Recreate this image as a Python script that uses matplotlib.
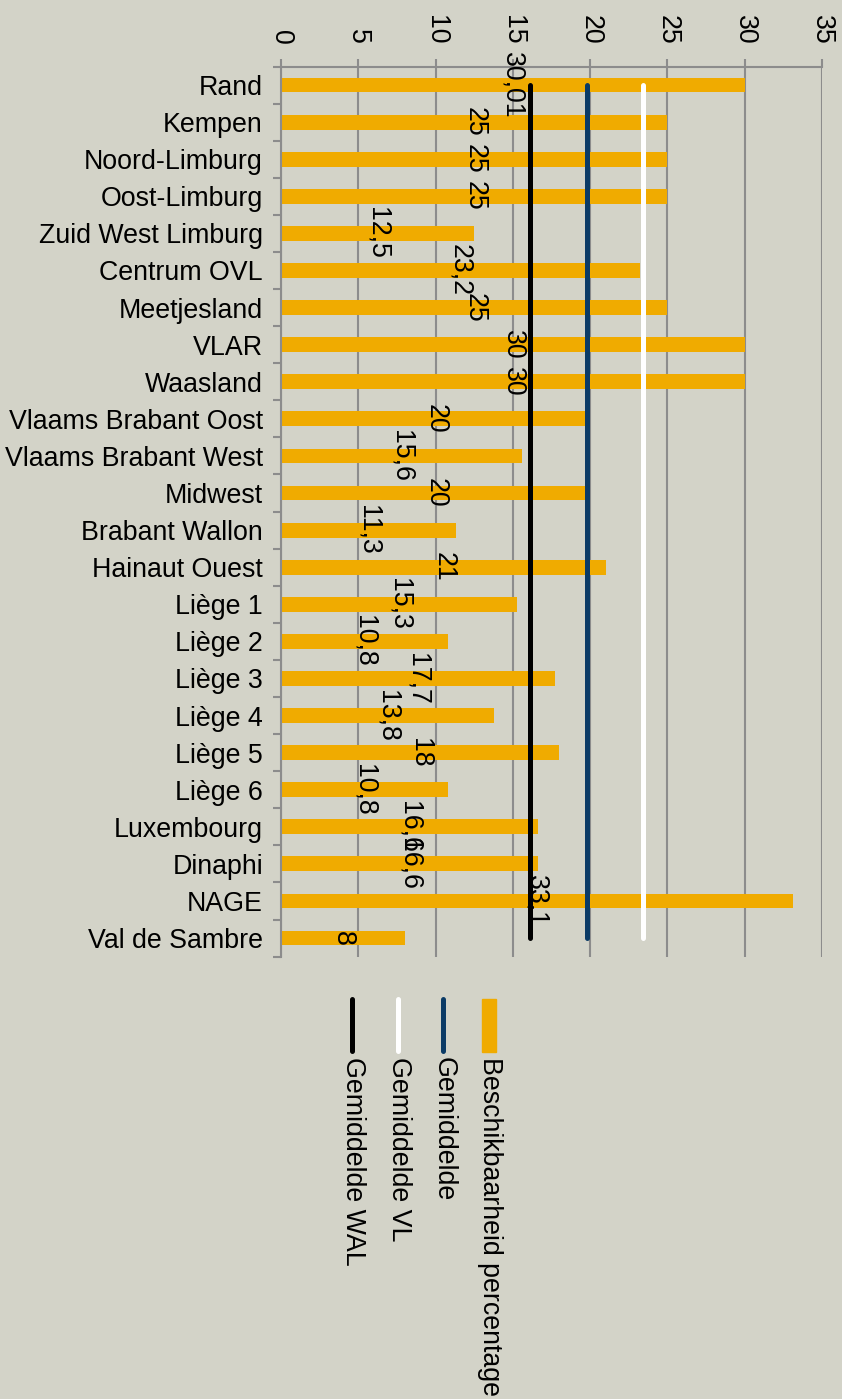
import matplotlib
matplotlib.use("Agg")
import matplotlib.pyplot as plt
from matplotlib.lines import Line2D
from matplotlib.patches import Rectangle

plt.rcParams['font.family'] = ['Liberation Sans', 'DejaVu Sans']

categories = ["Rand", "Kempen", "Noord-Limburg", "Oost-Limburg", "Zuid West Limburg",
              "Centrum OVL", "Meetjesland", "VLAR", "Waasland", "Vlaams Brabant Oost",
              "Vlaams Brabant West", "Midwest", "Brabant Wallon", "Hainaut Ouest",
              "Liège 1", "Liège 2", "Liège 3", "Liège 4", "Liège 5", "Liège 6",
              "Luxembourg", "Dinaphi", "NAGE", "Val de Sambre"]
beschikbaarheid = [30.01, 25, 25, 25, 12.5, 23.2, 25, 30, 30, 20, 15.6, 20,
                   11.3, 21, 15.3, 10.8, 17.7, 13.8, 18, 10.8, 16.6, 16.6, 33.1, 8]
gemiddelde = 19.8
gemiddelde_vl = 23.4
gemiddelde_wal = 16.1
x_ticks = [0, 5, 10, 15, 20, 25, 30, 35]

BG = "#D3D3C8"
ORANGE = "#F0AB00"
NAVY = "#0B3B66"
GRID = "#8C8C8C"
FS = 19.3

fig = plt.figure(figsize=(8.42, 13.99), dpi=100, facecolor=BG)
ax = fig.add_axes([281/842, 1 - 956.6/1399, (822-281)/842, (956.6-66.5)/1399])
ax.set_facecolor(BG)

pos = list(range(len(categories)))
ax.barh(pos, beschikbaarheid, height=0.4, color=ORANGE, zorder=2)

for val, name, col in [(gemiddelde_wal, "Gemiddelde WAL", "black"),
                       (gemiddelde_vl, "Gemiddelde VL", "white"),
                       (gemiddelde, "Gemiddelde", NAVY)]:
    ax.plot([val] * len(pos), pos, color=col, lw=3.6, solid_capstyle='round', zorder=3)

for p, v in zip(pos, beschikbaarheid):
    lab = f"{v:g}".replace('.', ',')
    ax.text(v / 2, p, lab, rotation=-90, ha='center', va='center', fontsize=FS,
            color='black', zorder=4)

ax.set_xlim(0, 35)
ax.set_ylim(len(pos) - 0.5, -0.5)
ax.set_xticks(x_ticks)
ax.set_xticklabels([str(t) for t in x_ticks], rotation=-90, fontsize=FS)
ax.xaxis.tick_top()
ax.tick_params(axis='x', length=6, color=GRID, width=1.5, pad=10)
ax.grid(axis='x', color=GRID, lw=1.5, zorder=1)
ax.set_axisbelow(True)

ax.set_yticks(pos)
ax.set_yticklabels(categories, fontsize=FS)
ax.set_yticks([p - 0.5 for p in pos] + [len(pos) - 0.5], minor=True)
ax.tick_params(axis='y', which='major', length=0, pad=13)
ax.tick_params(axis='y', which='minor', length=6, color=GRID, width=1.5)

for s in ['right', 'bottom']:
    ax.spines[s].set_visible(False)
for s in ['top', 'left']:
    ax.spines[s].set_color(GRID)
    ax.spines[s].set_linewidth(1.5)

# legend (rotated)
H = 1399.0
W = 842.0
def fx(x):
    return x / W
def fy(y):
    return 1 - y / H

fig.add_artist(Rectangle((fx(482), fy(1052)), 14 / W, 53 / H, color=ORANGE,
                         transform=fig.transFigure))
for x, col in [(443, NAVY), (398, "white"), (352, "black")]:
    fig.add_artist(Line2D([fx(x), fx(x)], [fy(999), fy(1051)], color=col, lw=3.6,
                          solid_capstyle='round', transform=fig.transFigure))
for x, txt in [(490, "Beschikbaarheid percentage"), (444, "Gemiddelde"),
               (399, "Gemiddelde VL"), (353, "Gemiddelde WAL")]:
    fig.text(fx(x), fy(1057), txt, rotation=-90, ha='center', va='top', fontsize=FS)

fig.savefig("out.png", dpi=100, facecolor=BG)
